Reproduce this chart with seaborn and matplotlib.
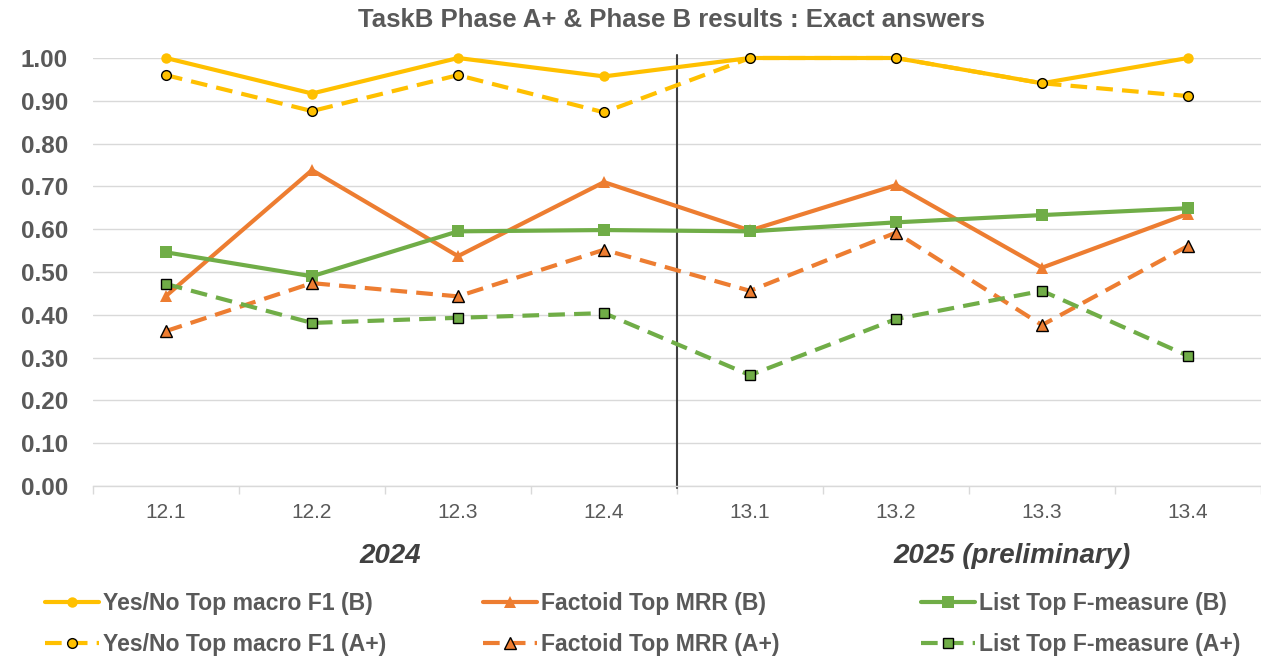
import matplotlib
matplotlib.use("Agg")
import matplotlib.pyplot as plt
import seaborn as sns
import numpy as np

# ─── Data ────────────────────────────────────────────────────────────────
ROUNDS = ['12.1', '12.2', '12.3', '12.4', '13.1', '13.2', '13.3', '13.4']

yesno_b = [1.00, 0.917, 1.00, 0.957, 1.00, 1.00, 0.941, 1.00]
yesno_a = [0.960, 0.876, 0.960, 0.873, 1.00, 1.00, 0.941, 0.911]
factoid_b = [0.444, 0.738, 0.537, 0.710, 0.597, 0.703, 0.510, 0.636]
factoid_a = [0.362, 0.474, 0.443, 0.552, 0.456, 0.592, 0.376, 0.561]
list_b = [0.546, 0.490, 0.595, 0.598, 0.595, 0.616, 0.633, 0.649]
list_a = [0.472, 0.381, 0.393, 0.404, 0.259, 0.390, 0.456, 0.304]

LABELS = {
    'yn_b': 'Yes/No Top macro F1 (B)',
    'yn_a': 'Yes/No Top macro F1 (A+)',
    'f_b': 'Factoid Top MRR (B)',
    'f_a': 'Factoid Top MRR (A+)',
    'l_b': 'List Top F-measure (B)',
    'l_a': 'List Top F-measure (A+)',
}

YELLOW = '#FFC000'
ORANGE = '#ED7D31'
GREEN = '#70AD47'
TEXT = '#595959'

sns.set_theme(style='white')
plt.rcParams['font.family'] = ['Liberation Sans', 'DejaVu Sans']

fig = plt.figure(figsize=(12.61, 6.66), dpi=100)
ax = fig.add_axes([93 / 1261, 1 - 486 / 666, 1 - 93 / 1261, (486 - 58) / 666])

dash = (4.0, 2.2)
series = [
    # key, values, color, marker, solid?, markersize
    ('yn_b', yesno_b, YELLOW, 'o', True, 7.5),
    ('f_b', factoid_b, ORANGE, '^', True, 8.5),
    ('l_b', list_b, GREEN, 's', True, 8),
    ('yn_a', yesno_a, YELLOW, 'o', False, 7),
    ('f_a', factoid_a, ORANGE, '^', False, 8),
    ('l_a', list_a, GREEN, 's', False, 7),
]

handles = {}
for key, vals, col, mk, solid, ms in series:
    kw = dict(color=col, marker=mk, markersize=ms, linewidth=3,
              markerfacecolor=col, clip_on=False)
    if solid:
        kw.update(markeredgecolor=col, markeredgewidth=0)
    else:
        kw.update(markeredgecolor='black', markeredgewidth=1.0, dashes=dash)
    sns.lineplot(x=ROUNDS, y=vals, ax=ax, sort=False, **kw)
    handles[key] = ax.lines[-1]

# Separator between 2024 and 2025 rounds
ax.plot([3.5, 3.5], [-0.005, 1.007], color='#404040', linewidth=1.5,
        clip_on=False, zorder=1)

ax.set_ylim(0, 1.0)
ax.set_xlim(-0.5, -0.5 + (1261 - 93) / 147.2)
ax.set_yticks(np.arange(0, 1.01, 0.1))
ax.set_yticklabels([f'{v:.2f}' for v in np.arange(0, 1.01, 0.1)])
ax.grid(axis='y', color='#D9D9D9', linewidth=1)
ax.grid(axis='x', visible=False)
ax.set_axisbelow(True)
for s in ['left', 'right', 'top']:
    ax.spines[s].set_visible(False)
ax.spines['bottom'].set_color('#D9D9D9')
ax.spines['bottom'].set_linewidth(1)

ax.set_xticks(np.arange(-0.5, 7.6, 1), minor=True)
ax.tick_params(axis='x', which='minor', length=6, width=1, color='#D9D9D9', direction='out', bottom=True)
ax.tick_params(axis='x', which='major', length=0, pad=12, labelsize=15, labelcolor=TEXT)
ax.tick_params(axis='y', length=0, pad=18, labelsize=17.5, labelcolor=TEXT)
for t in ax.get_yticklabels():
    t.set_fontweight('bold')
ax.set_xlabel('')
ax.set_ylabel('')

fig.text(671 / 1261, 1 - 20 / 666, 'TaskB Phase A+ & Phase B results : Exact answers',
         ha='center', va='center', fontsize=18.5, fontweight='bold', color=TEXT)

fig.text(390 / 1261, 1 - 556 / 666, '2024', ha='center', va='center',
         fontsize=20, fontweight='bold', fontstyle='italic', color='#404040')
fig.text(1012 / 1261, 1 - 556 / 666, '2025 (preliminary)', ha='center', va='center',
         fontsize=20, fontweight='bold', fontstyle='italic', color='#404040')

# Legend: three columns placed individually
col_x = [45, 483, 921]
pairs = [('yn_b', 'yn_a'), ('f_b', 'f_a'), ('l_b', 'l_a')]
for cx, (k1, k2) in zip(col_x, pairs):
    leg = fig.legend([handles[k1], handles[k2]], [LABELS[k1], LABELS[k2]],
                     loc='upper left', bbox_to_anchor=(cx / 1261, 1 - 592 / 666),
                     frameon=False, borderpad=0, borderaxespad=0,
                     handlelength=2.35, handletextpad=0.15, labelspacing=0.78,
                     prop={'size': 16.6, 'weight': 'bold'})
    for t in leg.get_texts():
        t.set_color(TEXT)

fig.savefig('out.png', dpi=100)
